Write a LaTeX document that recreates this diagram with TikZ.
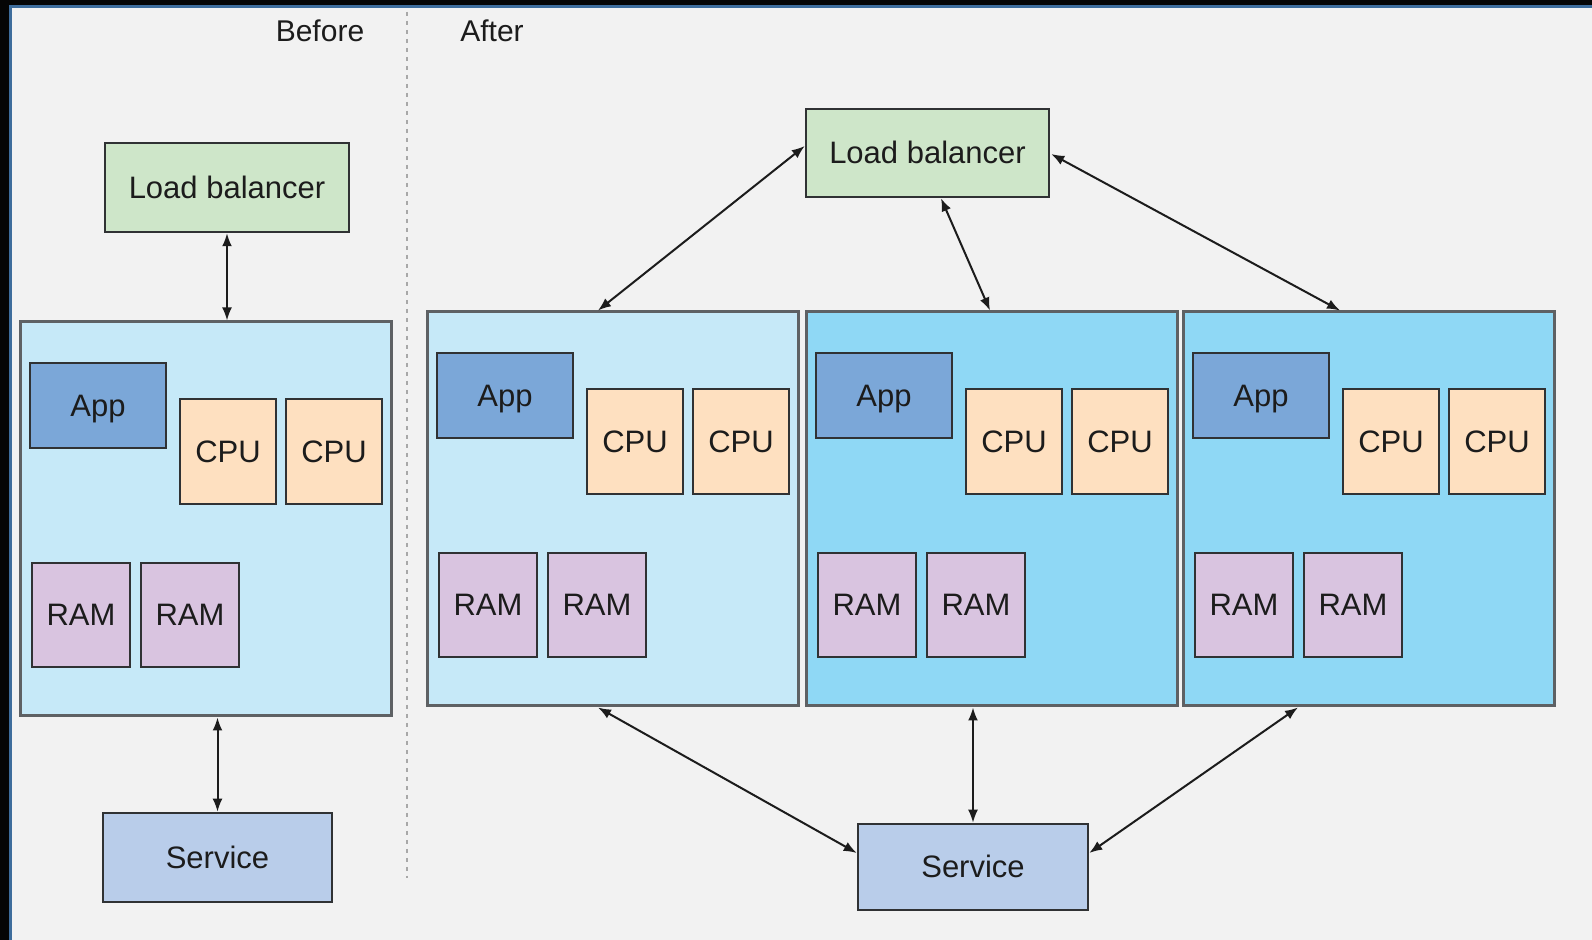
\documentclass[tikz,border=0pt]{standalone}
\usepackage{fontspec}
\setmainfont{Liberation Sans}
\usetikzlibrary{arrows.meta,calc}

\definecolor{pagebg}{HTML}{F2F2F2}
\definecolor{framedark}{HTML}{050505}
\definecolor{frameblue}{HTML}{3E6D9C}
\definecolor{lbgreen}{HTML}{CEE6C9}
\definecolor{hostpale}{HTML}{C6E9F8}
\definecolor{hostsky}{HTML}{8FD8F5}
\definecolor{appblue}{HTML}{7BA7D8}
\definecolor{cpupeach}{HTML}{FEE0C0}
\definecolor{ramlilac}{HTML}{D9C4E0}
\definecolor{svcblue}{HTML}{B9CDEA}
\definecolor{inkdark}{HTML}{1C1C1C}
\definecolor{hostline}{HTML}{5E6164}
\definecolor{partline}{HTML}{303234}
\definecolor{sepgray}{HTML}{A8A8A8}

\newcommand\serverunit[4]{% #1 name, #2 left x, #3 top y, #4 fill colour
  \node[hostbox, fill=#4] (#1) at (#2+185.5,#3+197) {};
  \node[appbox]  (#1-app)  at (#2+78,#3+83.5)   {App};
  \node[cpubox]  (#1-cpua) at (#2+208,#3+129.5) {CPU};
  \node[cpubox]  (#1-cpub) at (#2+314,#3+129.5) {CPU};
  \node[rambox]  (#1-rama) at (#2+61,#3+293)    {RAM};
  \node[rambox]  (#1-ramb) at (#2+170,#3+293)   {RAM};
}

\begin{document}
\begin{tikzpicture}[x=0.5pt,y=-0.5pt,
  every node/.style={font=\fontsize{15.5}{18}\selectfont, text=inkdark, inner sep=0pt},
  part/.style={draw=partline, line width=1.25pt, rectangle, text depth=0pt, text height=11pt},
  hostbox/.style={draw=hostline, line width=1.5pt, rectangle,
    minimum width=185.5pt, minimum height=197pt},
  appbox/.style={part, fill=appblue, minimum width=68pt, minimum height=42.5pt},
  cpubox/.style={part, fill=cpupeach, minimum width=48pt, minimum height=52.5pt},
  rambox/.style={part, fill=ramlilac, minimum width=49pt, minimum height=52pt},
  lbbox/.style={part, fill=lbgreen, minimum width=122pt, minimum height=44.5pt},
  svcbox/.style={part, fill=svcblue},
  link/.style={draw=inkdark, line width=1pt,
    {Latex[length=6.5pt,width=5pt]}-{Latex[length=6.5pt,width=5pt]}},
  caption/.style={font=\fontsize{15}{18}\selectfont}
]
% page background and frame strips
\fill[pagebg] (0,0) rectangle (1592,940);
\useasboundingbox (0,0) rectangle (1592,940);
\fill[framedark] (0,0) rectangle (1592,5);
\fill[framedark] (0,0) rectangle (9,940);
\fill[frameblue] (9,5) rectangle (1592,8);
\fill[frameblue] (9,5) rectangle (12,940);

% section captions and separator
\node[caption] (before) at (320,31) {Before};
\node[caption] (after) at (492,31) {After};
\coordinate (septop) at (407,12);
\coordinate (sepbot) at (407,878);
\draw[sepgray, line width=0.8pt, dash pattern=on 2pt off 2.5pt] (septop) -- (sepbot);

% ---- single host
\node[lbbox] (lb1) at (227,187.5) {Load balancer};
\serverunit{b0}{20}{322}{hostpale}
\node[svcbox, minimum width=114.5pt, minimum height=44.5pt] (svc1) at (217.5,857.5) {Service};

\draw[link] (lb1.south) -- (lb1.south |- b0.north);
\draw[link] (svc1.north |- b0.south) -- (svc1.north);

% ---- three hosts
\node[lbbox, minimum width=121.5pt, minimum height=44pt] (lb2) at (927.5,153) {Load balancer};
\serverunit{b1}{427}{312}{hostpale}
\serverunit{b2}{806}{312}{hostsky}
\serverunit{b3}{1183}{312}{hostsky}
\node[svcbox, minimum width=115pt, minimum height=43pt] (svc2) at (973,867) {Service};

\draw[link] ([shift={(0,-7)}]lb2.west) -- ([shift={(-14.5,0)}]b1.north);
\draw[link] ([shift={(13.5,0)}]lb2.south) -- ([shift={(-1.5,0)}]b2.north);
\draw[link] ([shift={(1,1)}]lb2.east) -- ([shift={(-28.5,0)}]b3.north);

\draw[link] ([shift={(-14.5,0)}]b1.south) -- ([shift={(0,-14)}]svc2.west);
\draw[link] (svc2.north |- b2.south) -- (svc2.north);
\draw[link] ([shift={(-70.5,0)}]b3.south) -- ([shift={(0,-14)}]svc2.east);
\end{tikzpicture}
\end{document}
